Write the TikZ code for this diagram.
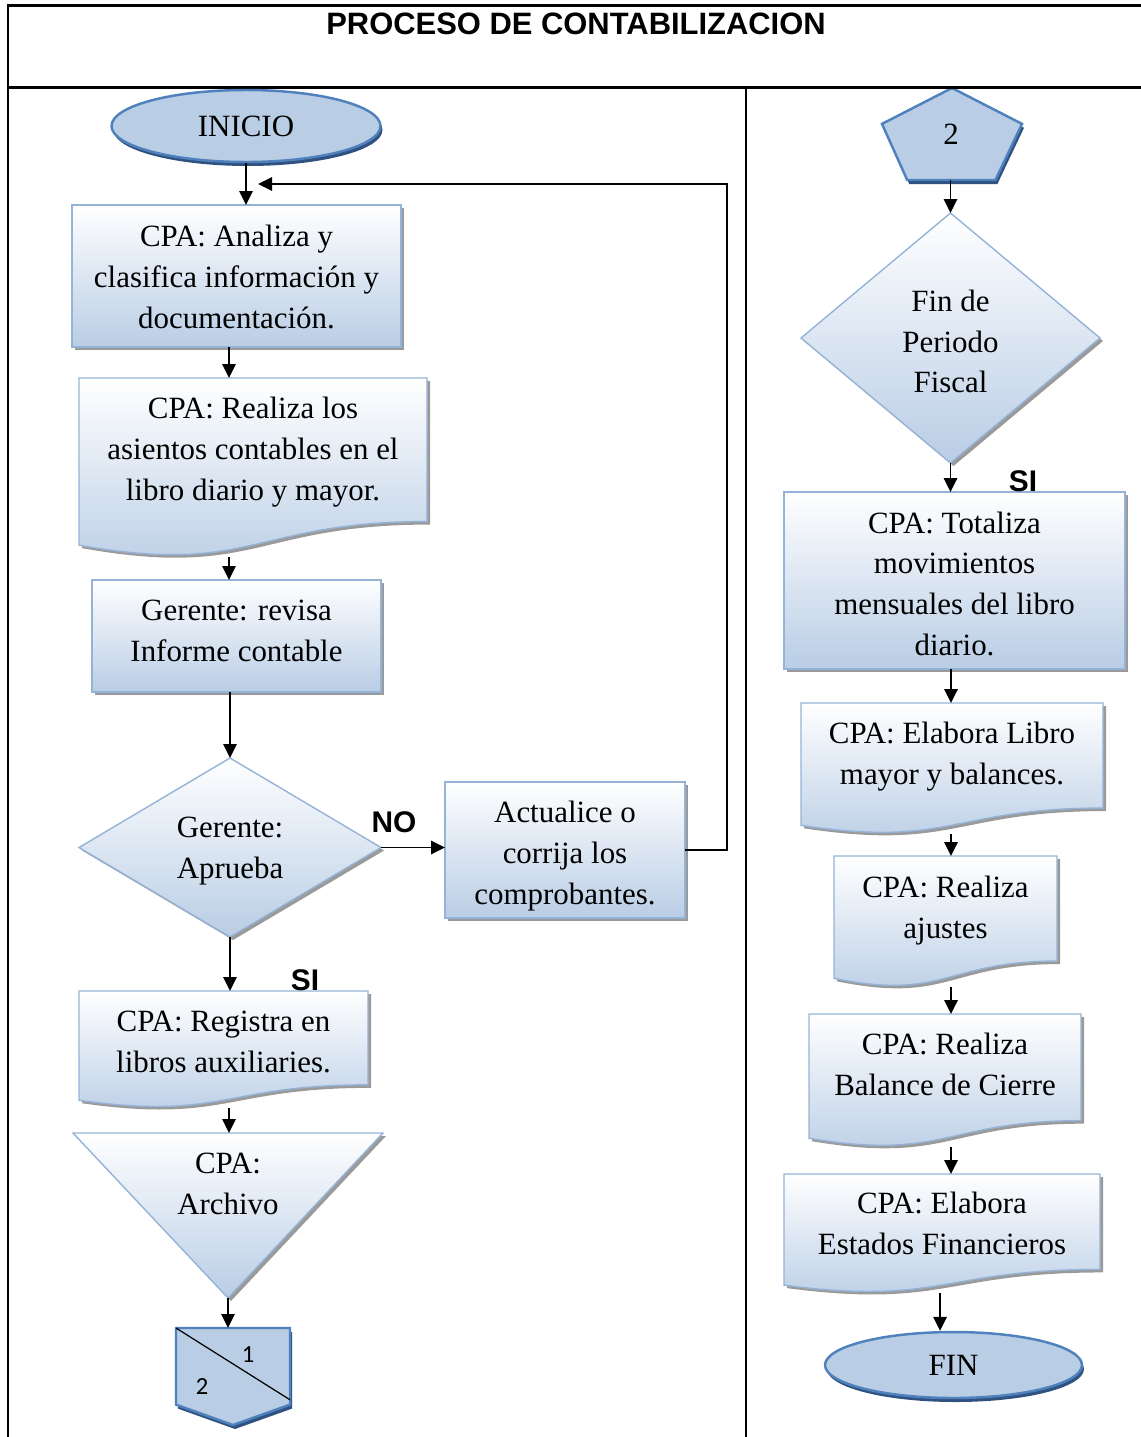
\documentclass[tikz,border=0pt]{standalone}
\usepackage{fontspec}
\setmainfont{Liberation Serif}
\newfontfamily\arialfont{Liberation Sans}
\newfontfamily\calibfont{Carlito}
\usetikzlibrary{arrows.meta,calc,fit,shadows,shapes.geometric}
\pgfdeclarelayer{bg}
\pgfsetlayers{bg,main}

\definecolor{boxbot}{HTML}{B9CDE5}
\definecolor{edgelight}{HTML}{95B3D7}
\definecolor{hatch}{HTML}{9A9A9A}
\definecolor{termfill}{HTML}{B9CDE5}
\definecolor{termedge}{HTML}{4F81BD}
\definecolor{termshade}{HTML}{2F5280}

% #1 shape style, #2 shadow style, #3 shadow offset, #4 outline path
\newcommand\shapeit[4]{%
  \begin{pgfonlayer}{bg}
    \begin{scope}[transform canvas={shift={#3}}]\path[#2] #4;\end{scope}
    \path[#1] #4;
  \end{pgfonlayer}}
% flowchart "document" outline with a wavy bottom edge
\newcommand\docshape[1]{\shapeit{procfill}{hatchfill}{(0.06cm,-0.06cm)}{(#1.north west) -- (#1.north east) -- ($(#1.north east)!0.802!(#1.south east)$) .. controls ($(#1.north)!0.802!(#1.south)$) and ($(#1.north)!1.107!(#1.south)$) .. ($(#1.north west)!0.934!(#1.south west)$) -- cycle}}
% decision diamond inscribed in a frame node
\newcommand\diashape[1]{\shapeit{procfill}{hatchfill}{(0.06cm,-0.06cm)}{(#1.north) -- (#1.east) -- (#1.south) -- (#1.west) -- cycle}}
% process rectangle
\newcommand\procshape[1]{\shapeit{procfill}{hatchfill}{(0.06cm,-0.06cm)}{(#1.north west) rectangle (#1.south east)}}

\tikzset{
  txt/.style={font=\fontsize{17.6}{23.2}\selectfont, align=center, inner sep=0pt, text depth=0pt},
  frame/.style={inner sep=0pt, outer sep=0pt, draw=none},
  procfill/.style={draw=edgelight, line width=0.8pt, top color=white, bottom color=boxbot},
  termfillst/.style={draw=termedge, line width=1.4pt, fill=termfill},
  hatchfill/.style={fill=hatch},
  termshadefill/.style={fill=termshade},
  termnode/.style={ellipse, txt, termfillst, general shadow={fill=termshade, shadow xshift=0.04cm, shadow yshift=-0.08cm}},
  arr/.style={line width=1pt, -{Triangle[length=0.28cm,width=0.27cm]}},
  lbl/.style={font=\arialfont\bfseries\fontsize{17}{20}\selectfont, inner sep=0pt},
  digit/.style={font=\calibfont\fontsize{14}{16}\selectfont, inner sep=0pt},
}

\begin{document}
\begin{tikzpicture}[x=0.02cm, y=-0.02cm]
\useasboundingbox (0,0) rectangle (1141,1437);

% table frame
\draw[line width=0.06cm] (8,5) -- (1150,5);
\draw[line width=0.06cm] (8,87) -- (1150,87);
\draw[line width=0.03cm] (8,3.5) -- (8,1445);
\draw[line width=0.03cm] (746,87) -- (746,1445);
\node[font=\arialfont\bfseries\fontsize{17.6}{20}\selectfont, inner sep=0pt] (title) at (576,24) {PROCESO DE CONTABILIZACION};

% ---------- left column ----------
\node[termnode, minimum width=5.38cm, minimum height=1.44cm] (ini) at (246,126) {INICIO};

\node[frame, fit={(72,205) (401,347)}] (b1) {};
\procshape{b1}
\node[txt] (b1t) at (236.5,277) {CPA: Analiza y\\clasifica información y\\documentación.};

\node[frame, fit={(79,378) (427,557)}] (d2) {};
\docshape{d2}
\node[txt] (d2t) at (253,449) {CPA: Realiza los\\asientos contables en el\\libro diario y mayor.};

\node[frame, fit={(92,580) (381,692)}] (b3) {};
\procshape{b3}
\node[txt] (b3t) at (236.5,630.5) {Gerente: revisa\\Informe contable};

\node[frame, fit={(79,758) (381,937)}] (g1) {};
\diashape{g1}
\node[txt] (g1t) at (230,847.5) {Gerente:\\Aprueba};

\node[frame, fit={(445,782) (685,918)}] (act) {};
\procshape{act}
\node[txt] (actt) at (565,853) {Actualice o\\corrija los\\comprobantes.};

\node[frame, fit={(79,991) (368,1108)}] (d5) {};
\docshape{d5}
\node[txt] (d5t) at (223.5,1041.5) {CPA: Registra en\\libros auxiliaries.};

\node[frame, fit={(73,1133) (383,1298)}] (tri) {};
\shapeit{procfill}{hatchfill}{(0.06cm,-0.06cm)}{(tri.north west) -- (tri.north east) -- (tri.south) -- cycle}
\node[txt] (trit) at (228,1183.5) {CPA:\\Archivo};

\node[frame, fit={(176,1328) (290,1425)}] (op) {};
\shapeit{termfillst}{termshadefill}{(0.04cm,-0.08cm)}{(op.north west) -- (op.north east) -- ($(op.north east)!0.79!(op.south east)$) -- (op.south) -- ($(op.north west)!0.79!(op.south west)$) -- cycle}
\draw[line width=0.7pt] (op.north west) -- ($(op.north east)!0.74!(op.south east)$);
\node[digit] (op1) at (248,1355) {1};
\node[digit] (op2) at (202,1387) {2};

% ---------- right column ----------
\node[frame, fit={(882,88) (1022,180)}] (p2) {};
\shapeit{termfillst}{termshadefill}{(0.04cm,-0.08cm)}{(p2.north) -- ($(p2.north east)!0.39!(p2.south east)$) -- ($(p2.south west)!0.81!(p2.south east)$) -- ($(p2.south west)!0.18!(p2.south east)$) -- ($(p2.north west)!0.39!(p2.south west)$) -- cycle}
\node[txt] (p2t) at (951,134) {2};

\node[frame, fit={(801,213) (1100,463)}] (fp) {};
\diashape{fp}
\node[txt] (fpt) at (950.5,341.5) {Fin de\\Periodo\\Fiscal};

\node[frame, fit={(784,492) (1125,669)}] (tot) {};
\procshape{tot}
\node[txt] (tott) at (954.5,583.5) {CPA: Totaliza\\movimientos\\mensuales del libro\\diario.};

\node[frame, fit={(801,703) (1103,834)}] (d7) {};
\docshape{d7}
\node[txt] (d7t) at (952,753.5) {CPA: Elabora Libro\\mayor y balances.};

\node[frame, fit={(834,856) (1057,987)}] (d8) {};
\docshape{d8}
\node[txt] (d8t) at (945.5,907) {CPA: Realiza\\ajustes};

\node[frame, fit={(809,1014) (1081,1147)}] (d9) {};
\docshape{d9}
\node[txt] (d9t) at (945,1064.5) {CPA: Realiza\\Balance de Cierre};

\node[frame, fit={(784,1174) (1100,1293)}] (d10) {};
\docshape{d10}
\node[txt] (d10t) at (942,1223.5) {CPA: Elabora\\Estados Financieros};

\node[termnode, minimum width=5.14cm, minimum height=1.32cm] (fin) at (953.5,1365) {FIN};

% branch labels
\node[lbl] (no) at (394,822) {NO};
\node[lbl] (si1) at (305,980) {SI};
\node[lbl] (si2) at (1023,481) {SI};

% ---------- connectors ----------
\coordinate (colL) at (229,0);
\coordinate (colR) at (951,0);
\coordinate (colF) at (940,0);
\coordinate (loopc) at (727,184);
\coordinate (ret) at (258,184);

\draw[arr] (ini.south) -- (ini.south |- b1.north);
\draw[arr] (b1.south -| colL) -- (d2.north -| colL);
\draw[arr] (d2.south -| colL) -- (b3.north -| colL);
\draw[arr] (b3.south -| g1.north) -- (g1.north);
\draw[arr] (g1.east) -- (g1.east -| act.west);
\draw[arr] (act.east) -| (loopc) -- (ret);
\draw[arr] (g1.south) -- (g1.south |- d5.north);
\draw[arr] (d5.south -| colL) -- (tri.north -| colL);
\draw[arr] (tri.south) -- (tri.south |- op.north);

\draw[arr] (p2.south -| fp.north) -- (fp.north);
\draw[arr] (fp.south) -- (fp.south |- tot.north);
\draw[arr] (tot.south -| colR) -- (d7.north -| colR);
\draw[arr] (d7.south -| colR) -- (d8.north -| colR);
\draw[arr] (d8.south -| colR) -- (d9.north -| colR);
\draw[arr] (d9.south -| colR) -- (d10.north -| colR);
\draw[arr] (d10.south -| colF) -- (fin.north -| colF);
\end{tikzpicture}
\end{document}
